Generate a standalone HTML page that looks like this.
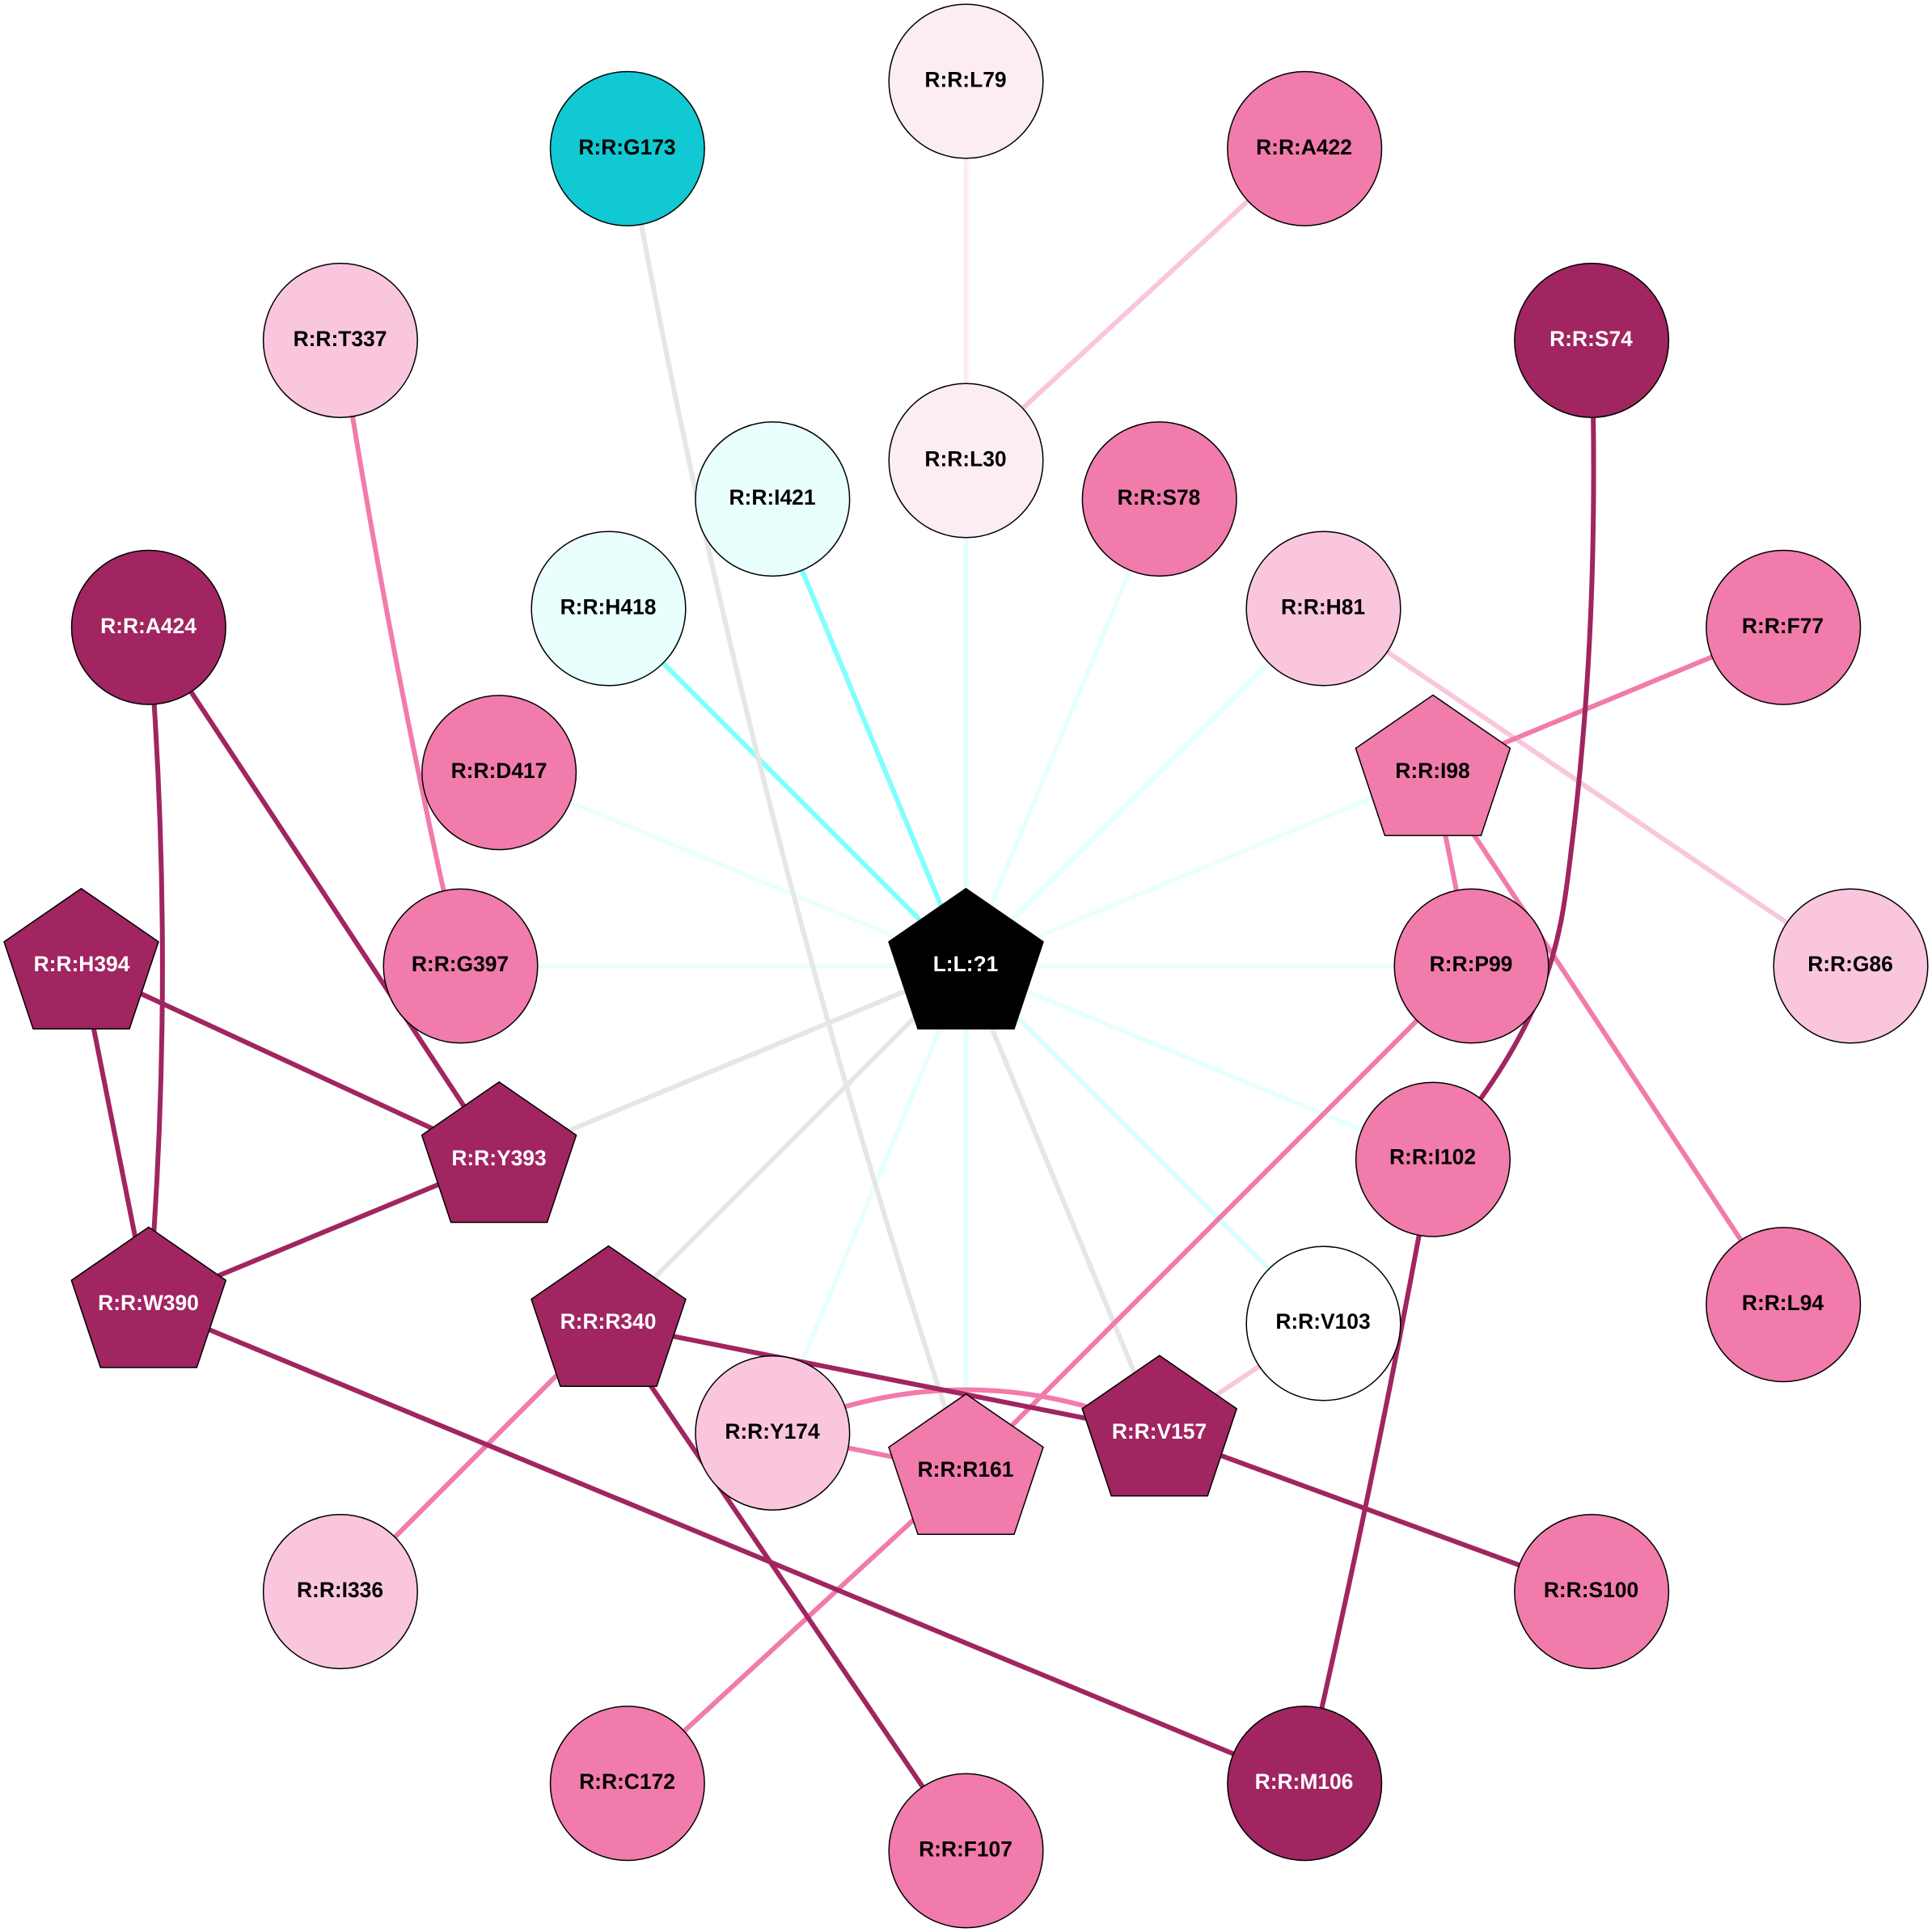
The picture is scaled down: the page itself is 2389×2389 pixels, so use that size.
<!DOCTYPE html>
<html><head><meta charset="utf-8"><style>html,body{margin:0;padding:0;background:#fff}svg{display:block}text{font-family:"Liberation Sans",Arial,sans-serif;font-weight:bold;font-size:26.4px;text-anchor:middle}</style></head><body>
<svg xmlns="http://www.w3.org/2000/svg" width="2389" height="2389" viewBox="0 0 2389 2389">
<rect width="2389" height="2389" fill="#fff"/>
<g fill="none" stroke-width="6">
<path d="M1194.5 1194.5L752.5 752.5M1194.5 1194.5L955.3 617.1" stroke="#80ffff"/>
<path d="M1194.5 1194.5L1194.5 569.5" stroke="#e0ffff"/>
<path d="M1194.5 1194.5L1433.7 617.1M1194.5 1194.5L1636.5 752.5M1194.5 1194.5L1771.9 1433.7M1194.5 1194.5L955.3 1771.9" stroke="#e8ffff"/>
<path d="M1194.5 1194.5L1771.9 955.3M1194.5 1194.5L617.1 955.3M1194.5 1194.5L569.5 1194.5M1194.5 1194.5L1819.5 1194.5" stroke="#ebffff"/>
<path d="M1194.5 1194.5L1636.5 1636.5" stroke="#d9ffff"/>
<path d="M1194.5 1194.5L1194.5 1819.5" stroke="#e3ffff"/>
<path d="M1194.5 1194.5L617.1 1433.7M1194.5 1194.5L752.5 1636.5M1194.5 1194.5L1433.7 1771.9M775.8 183.8Q922 1000 1194.5 1819.5" stroke="#e6e6e6"/>
<path d="M1194.5 100.5L1194.5 569.5" stroke="#fcecf4"/>
<path d="M1194.5 569.5L1613.2 183.8M1636.5 752.5L2288.5 1194.5M1433.7 1771.9L1636.5 1636.5" stroke="#f9c6dd"/>
<path d="M420.9 420.9Q481 808 569.5 1194.5M1771.9 955.3L2205.2 775.8M1771.9 955.3L1819.5 1194.5M1771.9 955.3L2205.2 1613.2M1819.5 1194.5L1194.5 1819.5M1194.5 1819.5L775.8 2205.2M752.5 1636.5L420.9 1968.1M955.3 1771.9L1194.5 1819.5M955.3 1771.9Q1194.5 1665 1433.7 1771.9" stroke="#f17bab"/>
<path d="M183.8 775.8Q218 1194.5 183.8 1613.2M183.8 775.8L617.1 1433.7M100.5 1194.5L617.1 1433.7M100.5 1194.5L183.8 1613.2M617.1 1433.7L183.8 1613.2M183.8 1613.2L1613.2 2205.2M752.5 1636.5L1433.7 1771.9M1433.7 1771.9L1968.1 1968.1M752.5 1636.5L1194.5 2288.5M1771.9 1433.7Q1702.5 1819.5 1613.2 2205.2M1968.1 420.9C1975 650 1968 850 1943 1050C1930 1160 1920 1260 1771.9 1433.7" stroke="#a02560"/>
</g>
<g stroke="#000" stroke-width="1.5">
<g fill="#fcecf4"><circle cx="1194.5" cy="100.5" r="95.3"/><circle cx="1194.5" cy="569.5" r="95.3"/></g>
<g fill="#f17bab"><circle cx="1613.2" cy="183.8" r="95.3"/><circle cx="2205.2" cy="775.8" r="95.3"/><circle cx="2205.2" cy="1613.2" r="95.3"/><circle cx="1968.1" cy="1968.1" r="95.3"/><circle cx="1194.5" cy="2288.5" r="95.3"/><circle cx="775.8" cy="2205.2" r="95.3"/><circle cx="1433.7" cy="617.1" r="95.3"/><circle cx="1819.5" cy="1194.5" r="95.3"/><circle cx="1771.9" cy="1433.7" r="95.3"/><circle cx="569.5" cy="1194.5" r="95.3"/><circle cx="617.1" cy="955.3" r="95.3"/></g>
<g fill="#a02560"><circle cx="1968.1" cy="420.9" r="95.3"/><circle cx="1613.2" cy="2205.2" r="95.3"/><circle cx="183.8" cy="775.8" r="95.3"/></g>
<g fill="#f9c6dd"><circle cx="2288.5" cy="1194.5" r="95.3"/><circle cx="420.9" cy="1968.1" r="95.3"/><circle cx="420.9" cy="420.9" r="95.3"/><circle cx="1636.5" cy="752.5" r="95.3"/><circle cx="955.3" cy="1771.9" r="95.3"/></g>
<circle cx="775.8" cy="183.8" r="95.3" fill="#10c9d3"/>
<g fill="#e8fffd"><circle cx="752.5" cy="752.5" r="95.3"/><circle cx="955.3" cy="617.1" r="95.3"/></g>
<circle cx="1636.5" cy="1636.5" r="95.3" fill="#fff"/>
<g fill="#a02560"><path d="M183.8 1517.4L279.3 1583.2L243.3 1691L124.3 1691L88.3 1583.2Z"/><path d="M100.5 1098.7L196 1164.5L160 1272.3L41 1272.3L5 1164.5Z"/><path d="M617.1 1337.9L712.6 1403.7L676.6 1511.5L557.6 1511.5L521.6 1403.7Z"/><path d="M752.5 1540.7L848 1606.5L812 1714.3L693 1714.3L657 1606.5Z"/><path d="M1433.7 1676.1L1529.2 1741.9L1493.2 1849.7L1374.2 1849.7L1338.2 1741.9Z"/></g>
<g fill="#f17bab"><path d="M1771.9 859.5L1867.4 925.3L1831.4 1033.1L1712.4 1033.1L1676.4 925.3Z"/><path d="M1194.5 1723.7L1290 1789.5L1254 1897.3L1135 1897.3L1099 1789.5Z"/></g>
<path d="M1194.5 1098.7L1290 1164.5L1254 1272.3L1135 1272.3L1099 1164.5Z" fill="#000"/>
</g>
<g fill="#000">
<text x="1194" y="107.5">R:R:L79</text>
<text x="1612.5" y="191">R:R:A422</text>
<text x="2204.5" y="783">R:R:F77</text>
<text x="2204.5" y="1620">R:R:L94</text>
<text x="1967.5" y="1975">R:R:S100</text>
<text x="1194" y="2295.5">R:R:F107</text>
<text x="775.5" y="2212">R:R:C172</text>
<text x="1194" y="576.5">R:R:L30</text>
<text x="1433" y="624">R:R:S78</text>
<text x="1636" y="759.5">R:R:H81</text>
<text x="1771.5" y="962">R:R:I98</text>
<text x="1819" y="1201">R:R:P99</text>
<text x="1771.5" y="1439.5">R:R:I102</text>
<text x="1636" y="1643">R:R:V103</text>
<text x="1194" y="1826">R:R:R161</text>
<text x="955" y="1779">R:R:Y174</text>
<text x="569" y="1201">R:R:G397</text>
<text x="617" y="962">R:R:D417</text>
<text x="752" y="759.5">R:R:H418</text>
<text x="955" y="624">R:R:I421</text>
<text x="2288" y="1201">R:R:G86</text>
<text x="420.5" y="1975">R:R:I336</text>
<text x="420.5" y="428">R:R:T337</text>
<text x="775.5" y="191">R:R:G173</text>
</g>
<g fill="#fff">
<text x="1967.5" y="428">R:R:S74</text>
<text x="1612.5" y="2212">R:R:M106</text>
<text x="183.5" y="783">R:R:A424</text>
<text x="183.5" y="1620">R:R:W390</text>
<text x="101" y="1201">R:R:H394</text>
<text x="617" y="1441">R:R:Y393</text>
<text x="752" y="1643">R:R:R340</text>
<text x="1433.5" y="1779">R:R:V157</text>
<text x="1194" y="1201">L:L:?1</text>
</g>
</svg>
</body></html>
